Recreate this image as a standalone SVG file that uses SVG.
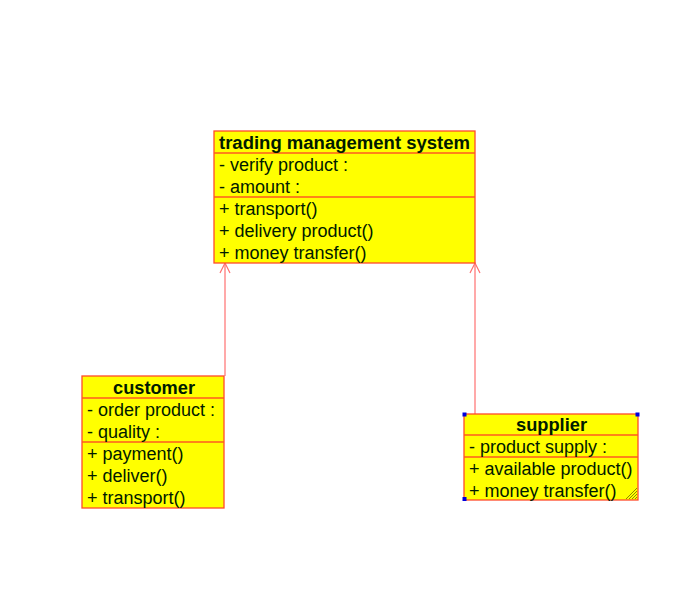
<svg xmlns="http://www.w3.org/2000/svg" width="699" height="616" viewBox="0 0 699 616">
<style>
.box{fill:#ffff00;stroke:#ff4a2a;stroke-width:1.3}
.sep{stroke:#ff5a20;stroke-width:1.5;fill:none}
.t{font-family:"Liberation Sans",Arial,sans-serif;font-size:18px;fill:#001a00}
.b{font-weight:bold;text-anchor:middle}
.con{stroke:#ff7070;stroke-width:1.2;fill:none}
.sel{fill:#0000dd}
.grip{stroke:#8a8a00;stroke-width:1}
</style>
<rect width="699" height="616" fill="#ffffff"/>
<g id="connectors">
<line class="con" x1="225" y1="376" x2="225" y2="263"/>
<polyline class="con" points="220,273 225,263 230,273"/>
<line class="con" x1="475" y1="414" x2="475" y2="263"/>
<polyline class="con" points="470,273 475,263 480,273"/>
</g>
<g id="trading-management-system">
<rect class="box" x="214" y="131" width="261" height="132"/>
<line class="sep" x1="214" y1="153" x2="475" y2="153"/>
<line class="sep" x1="214" y1="197" x2="475" y2="197"/>
<text class="t b" x="344.5" y="149" textLength="251" lengthAdjust="spacingAndGlyphs">trading management system</text>
<text class="t" x="219" y="171">- verify product :</text>
<text class="t" x="219" y="193">- amount :</text>
<text class="t" x="219" y="215">+ transport()</text>
<text class="t" x="219" y="237">+ delivery product()</text>
<text class="t" x="219" y="259">+ money transfer()</text>
</g>
<g id="customer">
<rect class="box" x="82" y="376" width="142" height="132"/>
<line class="sep" x1="82" y1="398" x2="224" y2="398"/>
<line class="sep" x1="82" y1="442" x2="224" y2="442"/>
<text class="t b" x="154" y="394" textLength="82" lengthAdjust="spacingAndGlyphs">customer</text>
<text class="t" x="87" y="416">- order product :</text>
<text class="t" x="87" y="438">- quality :</text>
<text class="t" x="87" y="460">+ payment()</text>
<text class="t" x="87" y="482">+ deliver()</text>
<text class="t" x="87" y="504">+ transport()</text>
</g>
<g id="supplier">
<rect class="box" x="464" y="414" width="174" height="86"/>
<line class="sep" x1="464" y1="435" x2="638" y2="435"/>
<line class="sep" x1="464" y1="457" x2="638" y2="457"/>
<text class="t b" x="551.5" y="431" textLength="71" lengthAdjust="spacingAndGlyphs">supplier</text>
<text class="t" x="469" y="453">- product supply :</text>
<text class="t" x="469" y="475">+ available product()</text>
<text class="t" x="469" y="497">+ money transfer()</text>
<rect class="sel" x="462.5" y="412.5" width="4" height="4"/>
<rect class="sel" x="635.5" y="412.5" width="4" height="4"/>
<rect class="sel" x="462.5" y="497" width="4" height="4"/>
<line class="grip" x1="626" y1="499" x2="637" y2="488"/>
<line class="grip" x1="629" y1="499" x2="637" y2="491"/>
<line class="grip" x1="632" y1="499" x2="637" y2="494"/>
<line class="grip" x1="635" y1="499" x2="637" y2="497"/>
</g>
</svg>
